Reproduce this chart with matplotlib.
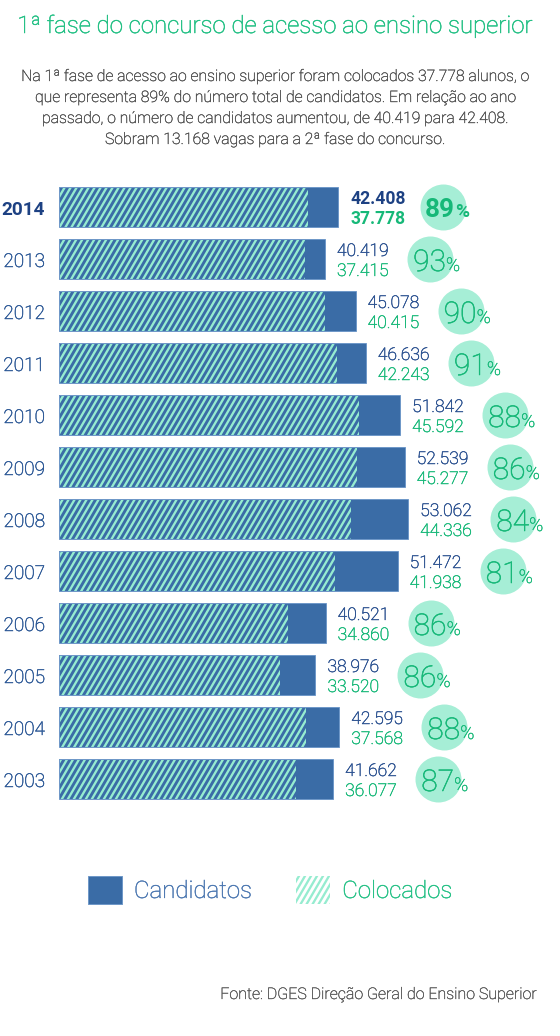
import matplotlib
matplotlib.use("Agg")
import numpy as np
import matplotlib.pyplot as plt
import matplotlib.transforms as mtransforms
import matplotlib.patheffects as pe
import matplotlib.hatch as mhatch
from matplotlib.path import Path
from matplotlib.patches import Patch

plt.rcParams['font.family'] = ['Roboto', 'DejaVu Sans']
plt.rcParams['hatch.linewidth'] = 2.3

years = ['2014', '2013', '2012', '2011', '2010', '2009', '2008', '2007', '2006', '2005', '2004', '2003']
candidatos = [42408, 40419, 45078, 46636, 51842, 52539, 53062, 51472, 40521, 38976, 42595, 41662]
colocados = [37778, 37415, 40415, 42243, 45592, 45277, 44336, 41938, 34860, 33520, 37568, 36077]
cand_labels = ['42.408', '40.419', '45.078', '46.636', '51.842', '52.539', '53.062', '51.472', '40.521', '38.976', '42.595', '41.662']
col_labels = ['37.778', '37.415', '40.415', '42.243', '45.592', '45.277', '44.336', '41.938', '34.860', '33.520', '37.568', '36.077']
percent = ['89', '93', '90', '91', '88', '86', '84', '81', '86', '86', '88', '87']

title = "1ª fase do concurso de acesso ao ensino superior"
subtitle = ["Na 1ª fase de acesso ao ensino superior foram colocados 37.778 alunos, o",
            "que representa 89% do número total de candidatos. Em relação ao ano",
            "passado, o número de candidatos aumentou, de 40.419 para 42.408.",
            "Sobram 13.168 vagas para a 2ª fase do concurso."]
legend_labels = ['Candidatos', 'Colocados']
source = "Fonte: DGES Direção Geral do Ensino Superior"


# steeper diagonal stripes (about 60 degrees) for the '/' hatch
class SteepHatch(mhatch.HatchPatternBase):
    K = 7

    def __init__(self, hatch, density):
        self.num_lines = int((hatch.count('/') + hatch.count('x') + hatch.count('X')) * density)
        if self.num_lines:
            self.idx = np.arange(-self.K - 2, self.num_lines + 3)
            self.num_vertices = len(self.idx) * 2
        else:
            self.num_vertices = 0

    def set_vertices_and_codes(self, vertices, codes):
        n = self.num_lines
        dx = self.K / n
        x0 = self.idx / n
        vertices[0::2, 0] = x0 - 0.1 * dx
        vertices[0::2, 1] = -0.1
        vertices[1::2, 0] = x0 + 1.1 * dx
        vertices[1::2, 1] = 1.1
        codes[0::2] = Path.MOVETO
        codes[1::2] = Path.LINETO


mhatch._hatch_types = [SteepHatch if t is mhatch.NorthEastHatch else t
                       for t in mhatch._hatch_types]

BLUE = '#3a6ca6'
EDGE = '#6f98c8'
MINT = '#96ecd0'
CIRCLE = '#a6eed6'
GREEN = '#16b878'
NAVY = '#1d4183'
YEARC = '#2c5896'
VALC = '#2b5190'
GRAY = '#4d4d4d'

W, H = 560, 1036
DPI = 72
fig = plt.figure(figsize=(W / DPI, H / DPI), dpi=DPI)
fig.patch.set_facecolor('white')

def fx(x):
    return x / W

def fy(y):
    return 1 - y / H

def thick(color, lw=0.4):
    return [pe.withStroke(linewidth=lw, foreground=color)]

# title & subtitle
fig.text(fx(275), fy(33), title, ha='center', va='baseline', fontsize=24.0,
         color='#22c084', fontweight='light', path_effects=thick('#22c084', 0.5))
for k, line in enumerate(subtitle):
    fig.text(fx(275), fy(81 + 21 * k), line, ha='center', va='baseline',
             fontsize=15.8, color=GRAY, fontweight='light', path_effects=thick(GRAY, 0.35))

# bar axes
ax = fig.add_axes([fx(59), fy(805), (W - 59) / W, 624 / H])
ax.set_xlim(0, 76140)
ax.set_ylim(len(years) - 0.5, -0.5)
ax.axis('off')

ypos = list(range(len(years)))
bh = 0.765
ax.barh(ypos, candidatos, height=bh, color=BLUE, linewidth=0, zorder=1)
ax.barh(ypos, colocados, height=bh, color=BLUE, edgecolor=MINT, hatch='//',
        linewidth=0, zorder=2)
ax.barh(ypos, candidatos, height=bh, fill=False, edgecolor=EDGE, linewidth=1, zorder=3)

circ_tr = ax.transData + mtransforms.ScaledTranslation(105 / DPI, 0, fig.dpi_scale_trans)
ax.scatter(candidatos, ypos, s=46 ** 2, color=CIRCLE, linewidths=0,
           transform=circ_tr, zorder=4, clip_on=False)

for i, yr in enumerate(years):
    bold = (i == 0)
    yc = NAVY if bold else YEARC
    ax.annotate(yr, xy=(0, i), xytext=(-14, -8), textcoords='offset points',
                ha='right', va='baseline', fontsize=19,
                fontweight='bold' if bold else 'light', color=yc,
                path_effects=None if bold else thick(yc, 0.45),
                annotation_clip=False)
    vc = NAVY if bold else VALC
    ax.annotate(cand_labels[i], xy=(candidatos[i], i), xytext=(12, 3),
                textcoords='offset points', ha='left', va='baseline',
                fontsize=17.5, fontweight='bold' if bold else 'light', color=vc,
                path_effects=None if bold else thick(vc, 0.45),
                annotation_clip=False)
    ax.annotate(col_labels[i], xy=(candidatos[i], i), xytext=(12, -17),
                textcoords='offset points', ha='left', va='baseline',
                fontsize=17.5, fontweight='bold' if bold else 'light', color=GREEN,
                path_effects=None if bold else thick(GREEN, 0.45),
                annotation_clip=False)
    off = 117 if bold else 121
    ax.annotate(percent[i], xy=(candidatos[i], i), xytext=(off, -10 if bold else -12),
                textcoords='offset points', ha='right', va='baseline',
                fontsize=26 if bold else 30, fontweight='bold' if bold else 'light',
                color=GREEN, path_effects=None if bold else thick(GREEN, 0.5),
                annotation_clip=False, zorder=5)
    ax.annotate('%', xy=(candidatos[i], i), xytext=(off, -10 if bold else -12),
                textcoords='offset points', ha='left', va='baseline',
                fontsize=19, fontweight='bold' if bold else 'light',
                color=GREEN, path_effects=None if bold else thick(GREEN, 0.4),
                annotation_clip=False, zorder=5)

# legend
handles = [Patch(facecolor=BLUE, edgecolor=EDGE, linewidth=1),
           Patch(facecolor='white', edgecolor=MINT, hatch='//', linewidth=0)]
leg = fig.legend(handles, legend_labels, loc='upper left',
                 bbox_to_anchor=(fx(88), fy(876)), ncol=2, frameon=False,
                 handlelength=34 / 24, handleheight=34 / 24,
                 handletextpad=0.5, columnspacing=1.85, borderpad=0,
                 borderaxespad=0, prop={'family': ['Roboto'], 'weight': 'light', 'size': 24})
for t, c in zip(leg.get_texts(), ['#4a76b0', '#22c084']):
    t.set_color(c)
    t.set_path_effects(thick(c, 0.4))

fig.text(fx(538), fy(999), source, ha='right', va='baseline', fontsize=16,
         color='#555555', fontweight='light', path_effects=thick('#555555', 0.35))

fig.savefig('out.png', dpi=DPI, facecolor='white')
